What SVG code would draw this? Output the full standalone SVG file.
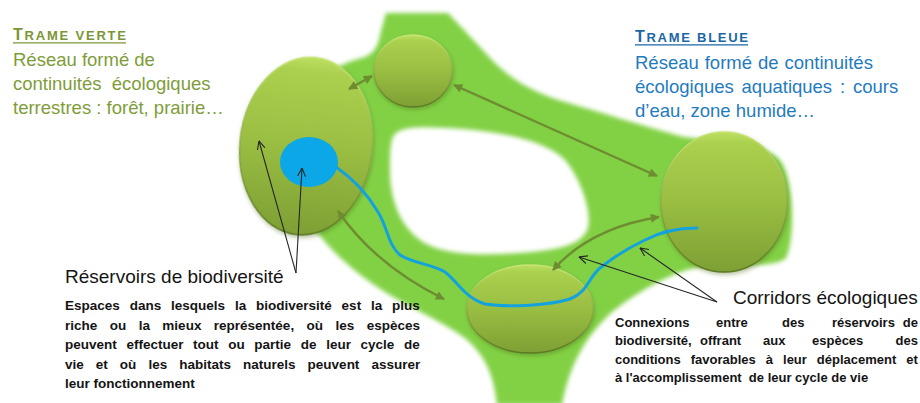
<svg xmlns="http://www.w3.org/2000/svg" width="920" height="403" viewBox="0 0 920 403">
<style>
  .sans { font-family: "Liberation Sans", Arial, sans-serif; }
  .hdg { font-weight: bold; }
  .green { fill: #7f9c3a; }
  .greenHd { fill: #7a9636; }
  .blue { fill: #1f7bbf; }
  .blueHd { fill: #1b67a4; }
  .blk { fill: #141414; }
  .body { font-size: 13.5px; font-weight: bold; }
  .bodyR { font-size: 13px; font-weight: bold; }
  .res { fill: url(#resFill); stroke: url(#resStroke); stroke-width: 1.5; filter: url(#shadow); }
  .olive { fill: none; stroke: #6e8c30; stroke-width: 2.4; marker-start: url(#oliveHead); marker-end: url(#oliveHead); }
  .pointer { fill: none; stroke: #262626; stroke-width: 1.1; marker-end: url(#openHead); }
</style>
<defs>
  <linearGradient id="resFill" x1="0" y1="0" x2="0" y2="1">
    <stop offset="0" stop-color="#bddf62"/>
    <stop offset="0.08" stop-color="#abd04e"/>
    <stop offset="0.5" stop-color="#99be42"/>
    <stop offset="1" stop-color="#7e9f34"/>
  </linearGradient>
  <linearGradient id="resStroke" x1="0" y1="0" x2="0" y2="1">
    <stop offset="0" stop-color="#c6e574"/>
    <stop offset="1" stop-color="#5b7a20"/>
  </linearGradient>
  <filter id="shadow" x="-20%" y="-20%" width="140%" height="140%">
    <feDropShadow dx="1" dy="2" stdDeviation="2" flood-color="#48661a" flood-opacity="0.4"/>
  </filter>
  <filter id="soft" x="-5%" y="-5%" width="110%" height="110%">
    <feGaussianBlur stdDeviation="2"/>
  </filter>
  <marker id="oliveHead" viewBox="0 0 10 10" refX="9" refY="5" markerWidth="10" markerHeight="9" markerUnits="userSpaceOnUse" orient="auto-start-reverse">
    <path d="M0,0 L10,5 L0,10 Z" fill="#6e8c30"/>
  </marker>
  <marker id="openHead" viewBox="0 0 10 10" refX="9.5" refY="5" markerWidth="9" markerHeight="9" markerUnits="userSpaceOnUse" orient="auto">
    <path d="M0,0.5 L9.5,5 L0,9.5" fill="none" stroke="#262626" stroke-width="1.2"/>
  </marker>
</defs>

<rect width="920" height="403" fill="#ffffff"/>

<g id="corridor-network">
  <path filter="url(#soft)" fill="#82d145" fill-rule="evenodd" d="M 318,82 C 326,72 345,62 362,58 C 372,55 378,48 380,35 L 386,13 L 448,13 L 492,60 C 510,78 530,92 565,102 C 600,112 640,125 680,136 C 710,142 760,140 780,160 C 795,180 795,240 786,258 C 775,268 740,264 705,266 C 675,270 640,290 612,312 C 590,332 570,360 562,405 L 497,405 C 494,375 485,355 465,338 C 440,320 410,308 385,292 C 360,276 338,258 320,236 C 300,212 285,180 285,150 C 285,120 300,97 318,82 Z M 392,140 C 395,125 420,126 463,129 C 500,132 545,140 565,160 C 580,178 592,210 588,228 C 582,245 560,250 520,253 C 480,256 440,255 420,240 C 400,225 390,200 390,170 C 390,155 390,147 392,140 Z"/>
</g>

<g id="reservoir-left">
  <ellipse class="res" cx="306" cy="146" rx="66" ry="89" transform="rotate(6 306 146)"/>
</g>
<g id="water-body">
  <ellipse cx="309" cy="162" rx="29" ry="25" fill="#0ba7e6"/>
</g>
<g id="reservoir-top">
  <ellipse class="res" cx="413" cy="71" rx="39" ry="36"/>
</g>
<g id="reservoir-right">
  <ellipse class="res" cx="724" cy="202" rx="63" ry="70"/>
</g>
<g id="reservoir-bottom">
  <ellipse class="res" cx="530" cy="309" rx="63" ry="44"/>
</g>

<g id="connectors">
  <path id="river" d="M336,167 C 352,178 368,195 378,212 C 388,228 388,245 400,255 C 412,263 432,264 445,272 C 458,282 465,298 485,304 C 510,308 550,305 570,299 C 588,292 588,278 600,268 C 615,256 630,247 645,240 C 660,232 675,228 697,228" fill="none" stroke="#14a2de" stroke-width="3" stroke-linecap="round"/>
  <path class="olive" d="M349,89 L372,76"/>
  <path class="olive" d="M454,85 L657,176"/>
  <path class="olive" d="M338,211 Q 375,265 444,299"/>
  <path class="olive" d="M553,270 Q 590,228 659,217"/>
  <path class="pointer" d="M296,273 L259,141"/>
  <path class="pointer" d="M296,273 L302,168"/>
  <path class="pointer" d="M717,302 L579,257"/>
  <path class="pointer" d="M717,302 L640,248"/>
</g>

<g id="trame-verte" class="sans">
  <text class="hdg greenHd" x="13" y="40" textLength="113" lengthAdjust="spacing"><tspan font-size="16">T</tspan><tspan font-size="13">RAME VERTE</tspan></text>
  <line x1="13" y1="42.8" x2="126" y2="42.8" stroke="#7a9636" stroke-width="1.3"/>
  <text class="green" font-size="18.5" x="13" y="66">Réseau formé de</text>
  <text class="green" font-size="18.5" x="13" y="90">continuités&#160; écologiques</text>
  <text class="green" font-size="18.5" x="13" y="114">terrestres : forêt, prairie…</text>
</g>

<g id="trame-bleue" class="sans">
  <text class="hdg blueHd" x="635" y="42" textLength="113" lengthAdjust="spacing"><tspan font-size="16">T</tspan><tspan font-size="13">RAME BLEUE</tspan></text>
  <line x1="635" y1="44.8" x2="748" y2="44.8" stroke="#1b67a4" stroke-width="1.3"/>
  <text class="blue" font-size="18.5" x="635" y="69" word-spacing="0.8">Réseau formé de continuités</text>
  <text class="blue" font-size="18.5" x="635" y="93" word-spacing="2.7">écologiques aquatiques : cours</text>
  <text class="blue" font-size="18.5" x="635" y="117">d’eau, zone humide…</text>
</g>

<g id="label-reservoirs" class="sans blk">
  <text font-size="19" x="65" y="283">Réservoirs de biodiversité</text>
  <text class="body" x="65" y="310" word-spacing="6.1">Espaces dans lesquels la biodiversité est la plus</text>
  <text class="body" x="65" y="329.5" word-spacing="8.7">riche ou la mieux représentée, où les espèces</text>
  <text class="body" x="65" y="349" word-spacing="5.9">peuvent effectuer tout ou partie de leur cycle de</text>
  <text class="body" x="65" y="368.5" word-spacing="8.3">vie et où les habitats naturels peuvent assurer</text>
  <text class="body" x="65" y="388">leur fonctionnement</text>
</g>

<g id="label-corridors" class="sans blk">
  <text font-size="19" x="733" y="304">Corridors écologiques</text>
  <text class="bodyR" y="327"><tspan x="615">Connexions</tspan><tspan x="716">entre</tspan><tspan x="782">des</tspan><tspan x="832">réservoirs</tspan><tspan x="918" text-anchor="end">de</tspan></text>
  <text class="bodyR" y="345"><tspan x="615">biodiversité,</tspan><tspan x="700">offrant</tspan><tspan x="763">aux</tspan><tspan x="812">espèces</tspan><tspan x="918" text-anchor="end">des</tspan></text>
  <text class="bodyR" x="615" y="363.5" word-spacing="6.4">conditions favorables à leur déplacement et</text>
  <text class="bodyR" x="615" y="381.5">à l'accomplissement&#160; de leur cycle de vie</text>
</g>
</svg>
